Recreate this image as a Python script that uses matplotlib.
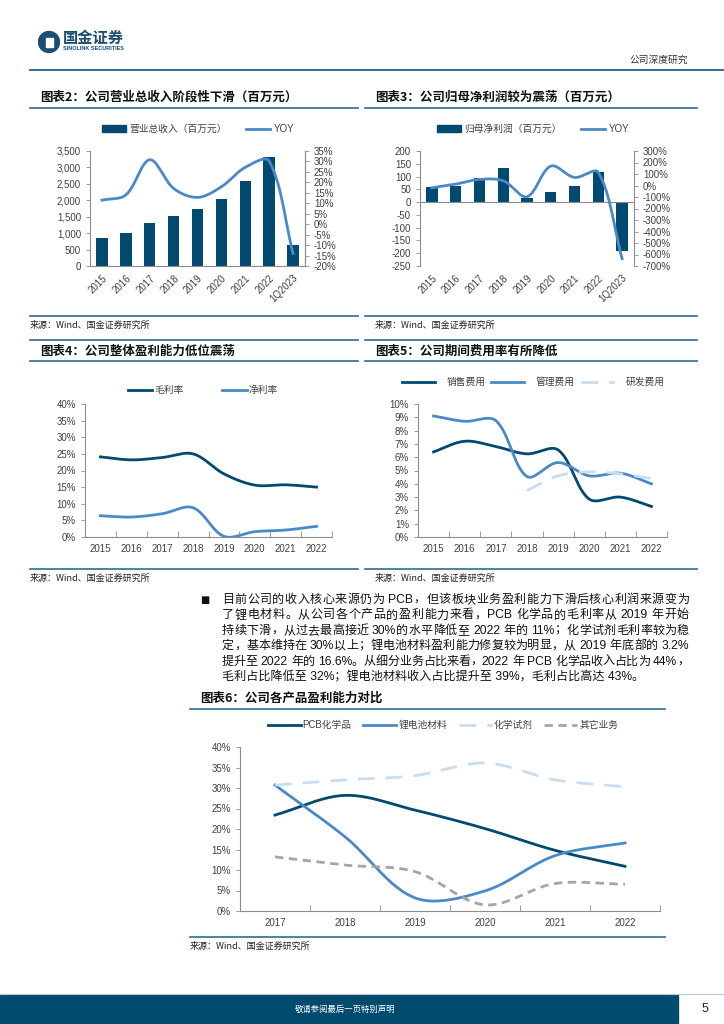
import re
import numpy as np
import matplotlib
matplotlib.use("Agg")
import matplotlib.pyplot as plt
from matplotlib.lines import Line2D
from matplotlib.patches import Rectangle, Circle, Patch

plt.rcParams['font.family'] = ['Liberation Sans', 'Noto Sans CJK SC', 'DejaVu Sans']
plt.rcParams['axes.unicode_minus'] = False

# ---- data ----
years_q = ['2015', '2016', '2017', '2018', '2019', '2020', '2021', '2022', '1Q2023']
revenue = [865, 997, 1302, 1526, 1729, 2024, 2584, 3306, 651]
revenue_yoy = [11.5, 14.0, 30.8, 17.1, 12.8, 17.9, 27.2, 30.2, -14.0]
net_profit = [58, 63, 94, 135, 17, 39, 63, 119, -191]
net_profit_yoy = [-20, 12, 53, 41, -98, 169, 70, 114, -636]

years8 = ['2015', '2016', '2017', '2018', '2019', '2020', '2021', '2022']
gross_margin = [24.1, 23.2, 23.9, 25.0, 19.0, 15.6, 15.7, 15.0]
net_margin = [6.4, 6.0, 7.0, 8.8, 0.2, 1.6, 2.1, 3.2]

sales_exp = [6.4, 7.2, 6.8, 6.25, 6.55, 2.85, 3.0, 2.3]
admin_exp = [9.1, 8.7, 8.75, 4.55, 5.6, 4.6, 4.8, 4.0]
rd_years = ['2018', '2019', '2020', '2021', '2022']
rd_exp = [3.5, 4.6, 4.9, 4.75, 4.4]

years6 = ['2017', '2018', '2019', '2020', '2021', '2022']
pcb = [23.4, 28.2, 24.6, 20.1, 14.8, 10.9]
lithium = [30.7, 18.1, 3.2, 4.9, 13.5, 16.6]
reagent = [30.7, 32.0, 33.0, 36.1, 32.0, 30.3]
other = [13.2, 11.2, 9.6, 1.5, 6.7, 6.5]

body = [
    "目前公司的收入核心来源仍为 PCB，但该板块业务盈利能力下滑后核心利润来源变为",
    "了锂电材料。从公司各个产品的盈利能力来看，PCB 化学品的毛利率从 2019 年开始",
    "持续下滑，从过去最高接近 30%的水平降低至 2022 年的 11%；化学试剂毛利率较为稳",
    "定，基本维持在 30%以上；锂电池材料盈利能力修复较为明显，从 2019 年底部的 3.2%",
    "提升至 2022 年的 16.6%。从细分业务占比来看，2022 年 PCB 化学品收入占比为 44%，",
    "毛利占比降低至 32%；锂电池材料收入占比提升至 39%，毛利占比高达 43%。",
]

NAVY = '#004A70'
BLUE = '#4A89C8'
LIGHT = '#C9DDF0'
GREY = '#A5A5A5'
RULE = '#2C6C94'
TICK = '#404040'
SPINE = '#8C8C8C'

W, H = 724, 1024
fig = plt.figure(figsize=(W / 100, H / 100), dpi=100)
renderer = fig.canvas.get_renderer()


def box(x0, y0, x1, y1):
    return [x0 / W, 1 - y1 / H, (x1 - x0) / W, (y1 - y0) / H]


def hline(x0, x1, y, color=RULE, lw=1.2):
    fig.add_artist(Line2D([x0 / W, x1 / W], [1 - y / H, 1 - y / H],
                          transform=fig.transFigure, color=color, lw=lw))


def ftext(x, y, s, **kw):
    return fig.text(x / W, 1 - y / H, s, **kw)


def curve(ax, x, y, n=30, **kw):
    # smoothed line like Excel: Bezier segments, handles weighted by on-screen segment length
    bb = ax.get_position()
    x0, x1 = ax.get_xlim()
    y0, y1 = ax.get_ylim()
    kx = bb.width * W / (x1 - x0)
    ky = bb.height * H / (y1 - y0)
    p = np.column_stack([np.asarray(x, float) * kx, np.asarray(y, float) * ky])
    m = len(p)
    t = np.linspace(0, 1, n)[1:, None]
    pts = [p[:1]]
    for i in range(m - 1):
        a = p[i - 1] if i > 0 else p[i]
        b, c = p[i], p[i + 1]
        d = p[i + 2] if i + 2 < m else p[i + 1]
        dab, dbc, dcd = np.hypot(*(b - a)), np.hypot(*(c - b)), np.hypot(*(d - c))
        c1 = b + (c - a) * dbc / (dab + dbc) / 3
        c2 = c - (d - b) * dbc / (dbc + dcd) / 3
        pts.append((1 - t)**3 * b + 3 * (1 - t)**2 * t * c1 + 3 * (1 - t) * t**2 * c2 + t**3 * c)
    q = np.vstack(pts)
    ax.plot(q[:, 0] / kx, q[:, 1] / ky, **kw)


def style_axes(ax):
    for s in ['top', 'right']:
        ax.spines[s].set_visible(False)
    for s in ['left', 'bottom']:
        ax.spines[s].set_color(SPINE)
        ax.spines[s].set_linewidth(0.8)
    ax.tick_params(axis='both', labelsize=7, colors=TICK, length=3, width=0.6)
    ax.tick_params(axis='both', color=SPINE)


def cat_ticks(ax, n):
    ax.set_xlim(-0.5, n - 0.5)
    ax.set_xticks(np.arange(n))
    ax.set_xticks(np.arange(n + 1) - 0.5, minor=True)
    ax.tick_params(axis='x', which='major', length=0, pad=5)
    ax.tick_params(axis='x', which='minor', length=4, direction='in', color=SPINE)


def pct(v, _=None):
    return f'{v:.0f}%'


def text_w(s, size):
    t = fig.text(0, 0, s, fontsize=size)
    w = t.get_window_extent(renderer).width
    t.remove()
    return w


def justified(x0, x1, y, line, size, **kw):
    chunks = [(m.start(), m.group()) for m in re.finditer(r'[A-Za-z0-9.%]+|\S', line)]
    pos = [text_w(line[:s + len(c)], size) - text_w(c, size) for s, c in chunks]
    extra = (x1 - x0) - text_w(line, size)
    step = extra / (len(chunks) - 1)
    for i, (s, c) in enumerate(chunks):
        ftext(x0 + pos[i] + i * step, y, c, fontsize=size, **kw)


# ---- page header ----
logo = fig.add_axes(box(38, 30, 60, 54))
logo.set_xlim(0, 22)
logo.set_ylim(0, 24)
logo.set_aspect('equal')
logo.axis('off')
logo.add_patch(Circle((11, 12), 10.5, color='#1B4E72'))
logo.add_patch(Rectangle((8, 7), 7, 9, color='white'))
ftext(63, 38, '国金证券', fontsize=11, fontweight='bold', color='#1B4E72',
      va='center', family=['Noto Sans CJK SC'])
ftext(63, 48, 'SINOLINK SECURITIES', fontsize=4, fontweight='bold', color='#1B4E72', va='center')
ftext(688, 60, '公司深度研究', fontsize=7, color='#333333', ha='right', va='center',
      family=['Noto Sans CJK SC'])
hline(30, 724, 70, color='#2C6C94', lw=1.4)

title_kw = dict(fontsize=9, fontweight='bold', color='#111111', va='center',
                family=['Noto Sans CJK SC', 'DejaVu Sans'])
src_kw = dict(fontsize=6.5, color='#222222', va='center', family=['Noto Sans CJK SC', 'DejaVu Sans'])

# ---- chart 2 ----
ftext(40, 97, '图表2：公司营业总收入阶段性下滑（百万元）', **title_kw)
hline(30, 358, 108)
ax = fig.add_axes(box(90, 151, 305, 266))
x = np.arange(len(years_q))
ax.bar(x, revenue, width=0.48, color=NAVY)
style_axes(ax)
ax.spines['right'].set_visible(True)
ax.spines['right'].set_color(SPINE)
ax.set_ylim(0, 3500)
ax.set_yticks(np.arange(0, 3501, 500))
ax.set_yticklabels([f'{v:,}' for v in range(0, 3501, 500)])
cat_ticks(ax, len(years_q))
ax.tick_params(axis='x', which='minor', length=0)
ax.set_xticklabels(years_q, rotation=45, ha='right', va='top', rotation_mode='anchor')
ax2 = ax.twinx()
ax2.set_ylim(-20, 35)
ax2.set_xlim(ax.get_xlim())
curve(ax2, x, revenue_yoy, color=BLUE, lw=2)
ax2.set_yticks(np.arange(-20, 36, 5))
ax2.yaxis.set_major_formatter(pct)
for s in ['top', 'left', 'bottom']:
    ax2.spines[s].set_visible(False)
ax2.spines['right'].set_color(SPINE)
ax2.tick_params(axis='y', labelsize=7, colors=TICK, length=3, width=0.6, color=SPINE)
fig.legend([Patch(color=NAVY), Line2D([], [], color=BLUE, lw=2)],
           ['营业总收入（百万元）', 'YOY'], loc='center', ncol=2, frameon=False,
           bbox_to_anchor=(198 / W, 1 - 129 / H), fontsize=7, handlelength=2.5,
           columnspacing=2, handletextpad=0.3, labelcolor=TICK)
hline(30, 358, 316)
ftext(30, 325, '来源：Wind、国金证券研究所', **src_kw)

# ---- chart 3 ----
ftext(375, 97, '图表3：公司归母净利润较为震荡（百万元）', **title_kw)
hline(365, 697, 108)
ax = fig.add_axes(box(420, 151, 634, 266))
ax.bar(x, net_profit, width=0.48, color=NAVY)
style_axes(ax)
ax.spines['bottom'].set_visible(False)
ax.axhline(0, color=SPINE, lw=0.8)
ax.set_ylim(-250, 200)
ax.set_yticks(np.arange(-250, 201, 50))
cat_ticks(ax, len(years_q))
ax.tick_params(axis='x', which='minor', length=0)
ax.set_xticklabels(years_q, rotation=45, ha='right', va='top', rotation_mode='anchor')
ax2 = ax.twinx()
ax2.set_ylim(-700, 300)
ax2.set_xlim(ax.get_xlim())
curve(ax2, x, net_profit_yoy, color=BLUE, lw=2)
ax2.set_yticks(np.arange(-700, 301, 100))
ax2.yaxis.set_major_formatter(pct)
for s in ['top', 'left', 'bottom']:
    ax2.spines[s].set_visible(False)
ax2.spines['right'].set_color(SPINE)
ax2.tick_params(axis='y', labelsize=7, colors=TICK, length=3, width=0.6, color=SPINE)
fig.legend([Patch(color=NAVY), Line2D([], [], color=BLUE, lw=2)],
           ['归母净利润（百万元）', 'YOY'], loc='center', ncol=2, frameon=False,
           bbox_to_anchor=(533 / W, 1 - 129 / H), fontsize=7, handlelength=2.5,
           columnspacing=2, handletextpad=0.3, labelcolor=TICK)
hline(365, 697, 316)
ftext(375, 325, '来源：Wind、国金证券研究所', **src_kw)

# ---- chart 4 ----
hline(30, 358, 340)
ftext(40, 351, '图表4：公司整体盈利能力低位震荡', **title_kw)
hline(30, 358, 361)
ax = fig.add_axes(box(85, 404, 332, 537))
x8 = np.arange(len(years8))
style_axes(ax)
ax.set_ylim(0, 40)
cat_ticks(ax, len(years8))
curve(ax, x8, gross_margin, color=NAVY, lw=2)
curve(ax, x8, net_margin, color=BLUE, lw=2)
ax.set_yticks(np.arange(0, 41, 5))
ax.yaxis.set_major_formatter(pct)
ax.set_xticklabels(years8)
fig.legend([Line2D([], [], color=NAVY, lw=2), Line2D([], [], color=BLUE, lw=2)],
           ['毛利率', '净利率'], loc='center', ncol=2, frameon=False,
           bbox_to_anchor=(203 / W, 1 - 390 / H), fontsize=7, handlelength=2.5,
           columnspacing=4, handletextpad=0.2, labelcolor=TICK)
hline(30, 358, 569)
ftext(30, 578, '来源：Wind、国金证券研究所', **src_kw)

# ---- chart 5 ----
hline(365, 697, 340)
ftext(375, 351, '图表5：公司期间费用率有所降低', **title_kw)
hline(365, 697, 361)
ax = fig.add_axes(box(418, 404, 667, 537))
style_axes(ax)
ax.set_ylim(0, 10)
cat_ticks(ax, len(years8))
curve(ax, x8, sales_exp, color=NAVY, lw=2)
curve(ax, x8, admin_exp, color=BLUE, lw=2)
xr = np.array([years8.index(y) for y in rd_years])
curve(ax, xr, rd_exp, color=LIGHT, lw=2, dashes=(6, 4))
ax.set_yticks(np.arange(0, 11, 1))
ax.yaxis.set_major_formatter(pct)
ax.set_xticklabels(years8)
fig.legend([Line2D([], [], color=NAVY, lw=2), Line2D([], [], color=BLUE, lw=2),
            Line2D([], [], color=LIGHT, lw=2, dashes=(6, 4))],
           ['销售费用', '管理费用', '研发费用'], loc='center', ncol=3, frameon=False,
           bbox_to_anchor=(533 / W, 1 - 382 / H), fontsize=7, handlelength=3.4,
           columnspacing=0.6, handletextpad=1.2, labelcolor=TICK)
hline(365, 697, 569)
ftext(375, 578, '来源：Wind、国金证券研究所', **src_kw)

# ---- body text ----
ftext(200, 600, '■', fontsize=7, color='#111111', va='center', family=['DejaVu Sans'])
for i, line in enumerate(body):
    y = 600 + 15.4 * i
    if i < len(body) - 1:
        justified(222, 689, y, line, 8.7, color='#111111', va='center')
    else:
        ftext(222, y, line, fontsize=8.7, color='#111111', va='center')

# ---- chart 6 ----
ftext(200, 698, '图表6：公司各产品盈利能力对比', **title_kw)
hline(190, 665, 709)
ax = fig.add_axes(box(240, 747, 660, 911))
x6 = np.arange(len(years6))
style_axes(ax)
ax.set_ylim(0, 40)
cat_ticks(ax, len(years6))
curve(ax, x6, pcb, color=NAVY, lw=2)
curve(ax, x6, lithium, color=BLUE, lw=2)
curve(ax, x6, reagent, color=LIGHT, lw=2, dashes=(6, 4))
curve(ax, x6, other, color=GREY, lw=2, dashes=(3, 2))
ax.set_yticks(np.arange(0, 41, 5))
ax.yaxis.set_major_formatter(pct)
ax.set_xticklabels(years6)
fig.legend([Line2D([], [], color=NAVY, lw=2), Line2D([], [], color=BLUE, lw=2),
            Line2D([], [], color=LIGHT, lw=2, dashes=(6, 4)),
            Line2D([], [], color=GREY, lw=2, dashes=(3, 2))],
           ['PCB化学品', '锂电池材料', '化学试剂', '其它业务'], loc='center', ncol=4,
           frameon=False, bbox_to_anchor=(443 / W, 1 - 725 / H), fontsize=7,
           handlelength=3.4, columnspacing=1.2, handletextpad=0.2, labelcolor=TICK)
hline(190, 665, 937)
ftext(190, 946, '来源：Wind、国金证券研究所', **src_kw)

# ---- footer ----
fig.add_artist(Rectangle((0, 1 - 1023 / H), 678 / W, 28 / H, transform=fig.transFigure,
                         color='#004B6E'))
hline(0, 724, 994, color='#B8C8D4', lw=0.8)
ftext(345, 1009, '敬请参阅最后一页特别声明', fontsize=6, color='white', ha='center', va='center',
      family=['Noto Sans CJK SC'])
ftext(705, 1009, '5', fontsize=9, color='#222222', ha='center', va='center')

fig.savefig('out.png', dpi=100)
